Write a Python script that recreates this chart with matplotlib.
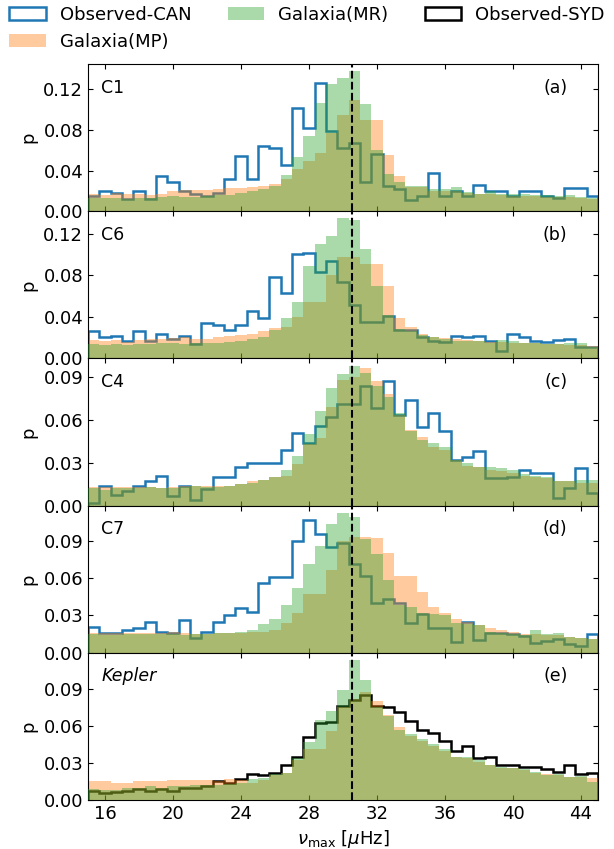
import numpy as np
import matplotlib
matplotlib.use("Agg")
import matplotlib.pyplot as plt

# bins: 45 bins of width 2/3 between 15 and 45 muHz
edges = np.linspace(15, 45, 46)
centers = 0.5 * (edges[:-1] + edges[1:])
numax_ref = 30.5

# C1
can_c1 = [0.015, 0.020, 0.018, 0.012, 0.020, 0.012, 0.035, 0.029, 0.020, 0.017,
          0.015, 0.018, 0.032, 0.054, 0.032, 0.064, 0.062, 0.046, 0.102, 0.082,
          0.126, 0.079, 0.062, 0.067, 0.029, 0.056, 0.025, 0.022, 0.011, 0.015,
          0.038, 0.015, 0.020, 0.015, 0.026, 0.020, 0.020, 0.015, 0.020, 0.020,
          0.015, 0.013, 0.023, 0.023, 0.015]
mp_c1 = [0.017, 0.016, 0.018, 0.017, 0.017, 0.016, 0.017, 0.020, 0.021, 0.021,
         0.021, 0.022, 0.023, 0.023, 0.024, 0.025, 0.027, 0.032, 0.042, 0.049,
         0.057, 0.077, 0.095, 0.110, 0.090, 0.090, 0.055, 0.035, 0.024, 0.024,
         0.020, 0.020, 0.020, 0.018, 0.017, 0.017, 0.016, 0.015, 0.015, 0.015,
         0.014, 0.014, 0.014, 0.013, 0.012]
mr_c1 = [0.013, 0.013, 0.013, 0.012, 0.013, 0.013, 0.014, 0.015, 0.014, 0.014,
         0.015, 0.016, 0.016, 0.018, 0.020, 0.022, 0.025, 0.036, 0.053, 0.074,
         0.107, 0.125, 0.131, 0.138, 0.106, 0.060, 0.037, 0.029, 0.025, 0.025,
         0.022, 0.022, 0.024, 0.019, 0.017, 0.0195, 0.017, 0.017, 0.017, 0.016,
         0.016, 0.0145, 0.016, 0.014, 0.013]

# C6
can_c6 = [0.026, 0.021, 0.022, 0.017, 0.026, 0.017, 0.024, 0.019, 0.022, 0.014,
          0.034, 0.032, 0.027, 0.032, 0.046, 0.039, 0.079, 0.063, 0.101, 0.102,
          0.083, 0.094, 0.074, 0.052, 0.035, 0.035, 0.041, 0.027, 0.027, 0.021,
          0.017, 0.0155, 0.022, 0.021, 0.022, 0.017, 0.007, 0.024, 0.021, 0.017,
          0.0155, 0.018, 0.019, 0.011, 0.011]
mp_c6 = [0.018, 0.017, 0.018, 0.016, 0.018, 0.019, 0.019, 0.020, 0.021, 0.019,
         0.019, 0.021, 0.022, 0.023, 0.024, 0.026, 0.029, 0.030, 0.040, 0.054,
         0.054, 0.080, 0.098, 0.098, 0.091, 0.091, 0.070, 0.039, 0.030, 0.024,
         0.021, 0.020, 0.019, 0.018, 0.017, 0.016, 0.016, 0.015, 0.015, 0.015,
         0.014, 0.014, 0.013, 0.013, 0.012]
mr_c6 = [0.014, 0.013, 0.014, 0.013, 0.014, 0.014, 0.015, 0.015, 0.014, 0.015,
         0.015, 0.015, 0.016, 0.017, 0.019, 0.021, 0.027, 0.039, 0.054, 0.089,
         0.110, 0.118, 0.135, 0.134, 0.106, 0.070, 0.042, 0.028, 0.026, 0.023,
         0.021, 0.019, 0.017, 0.017, 0.017, 0.0145, 0.018, 0.017, 0.0145, 0.0145,
         0.0135, 0.0135, 0.0145, 0.015, 0.011]

# C4
can_c4 = [0.002, 0.014, 0.0075, 0.010, 0.014, 0.017, 0.021, 0.0066, 0.014, 0.004,
          0.0117, 0.0197, 0.0197, 0.027, 0.030, 0.030, 0.030, 0.039, 0.051, 0.044,
          0.056, 0.062, 0.071, 0.071, 0.084, 0.068, 0.087, 0.0635, 0.074, 0.055,
          0.065, 0.052, 0.032, 0.034, 0.038, 0.019, 0.019, 0.020, 0.025, 0.023,
          0.023, 0.0056, 0.012, 0.026, 0.009]
mp_c4 = [0.013, 0.013, 0.013, 0.013, 0.013, 0.013, 0.012, 0.013, 0.014, 0.014,
         0.014, 0.014, 0.014, 0.015, 0.017, 0.018, 0.020, 0.021, 0.029, 0.043,
         0.047, 0.069, 0.088, 0.090, 0.096, 0.087, 0.078, 0.0635, 0.053, 0.048,
         0.041, 0.039, 0.032, 0.028, 0.027, 0.025, 0.024, 0.023, 0.021, 0.020,
         0.019, 0.017, 0.017, 0.016, 0.016]
mr_c4 = [0.012, 0.011, 0.012, 0.012, 0.012, 0.013, 0.012, 0.012, 0.013, 0.014,
         0.013, 0.013, 0.014, 0.015, 0.016, 0.018, 0.020, 0.025, 0.035, 0.050,
         0.0665, 0.0825, 0.092, 0.098, 0.093, 0.084, 0.076, 0.065, 0.0525, 0.046,
         0.0435, 0.041, 0.032, 0.030, 0.027, 0.027, 0.026, 0.025, 0.022, 0.021,
         0.020, 0.0175, 0.0175, 0.018, 0.018]

# C7
can_c7 = [0.0205, 0.016, 0.016, 0.018, 0.0195, 0.025, 0.017, 0.016, 0.026, 0.012,
          0.017, 0.025, 0.030, 0.036, 0.033, 0.056, 0.0605, 0.0605, 0.090, 0.1065,
          0.095, 0.085, 0.088, 0.0715, 0.0615, 0.040, 0.043, 0.040, 0.024, 0.031,
          0.0195, 0.0195, 0.009, 0.025, 0.010, 0.0155, 0.0155, 0.015, 0.0135, 0.008,
          0.0097, 0.011, 0.007, 0.0054, 0.015]
mp_c7 = [0.016, 0.016, 0.016, 0.016, 0.016, 0.016, 0.016, 0.017, 0.016, 0.015,
         0.015, 0.016, 0.016, 0.016, 0.017, 0.017, 0.018, 0.024, 0.032, 0.047,
         0.047, 0.066, 0.090, 0.093, 0.093, 0.092, 0.080, 0.0615, 0.0615, 0.049,
         0.0365, 0.032, 0.027, 0.025, 0.022, 0.020, 0.018, 0.017, 0.015, 0.015,
         0.014, 0.014, 0.013, 0.012, 0.011]
mr_c7 = [0.015, 0.014, 0.014, 0.015, 0.015, 0.015, 0.015, 0.015, 0.014, 0.015,
         0.015, 0.016, 0.016, 0.017, 0.018, 0.023, 0.0275, 0.038, 0.052, 0.0715,
         0.086, 0.103, 0.112, 0.1085, 0.091, 0.079, 0.058, 0.038, 0.0365, 0.032,
         0.031, 0.030, 0.024, 0.023, 0.022, 0.017, 0.016, 0.015, 0.014, 0.018,
         0.015, 0.016, 0.013, 0.012, 0.011]

# Kepler
syd_kep = [0.007, 0.0054, 0.0065, 0.0076, 0.009, 0.0076, 0.009, 0.0076, 0.0097, 0.010,
           0.011, 0.0157, 0.014, 0.017, 0.021, 0.0205, 0.0216, 0.028, 0.035, 0.051,
           0.062, 0.063, 0.0757, 0.081, 0.0846, 0.0757, 0.075, 0.071, 0.0635, 0.057,
           0.054, 0.0476, 0.040, 0.0435, 0.034, 0.0346, 0.0286, 0.028, 0.0265, 0.0265,
           0.025, 0.023, 0.028, 0.021, 0.0216]
mp_kep = [0.015, 0.015, 0.014, 0.014, 0.015, 0.015, 0.015, 0.016, 0.016, 0.016,
          0.016, 0.015, 0.017, 0.016, 0.0135, 0.016, 0.020, 0.022, 0.032, 0.041,
          0.041, 0.056, 0.075, 0.082, 0.087, 0.080, 0.069, 0.059, 0.052, 0.048,
          0.044, 0.040, 0.035, 0.034, 0.031, 0.028, 0.026, 0.026, 0.024, 0.022,
          0.021, 0.020, 0.019, 0.019, 0.018]
mr_kep = [0.009, 0.008, 0.008, 0.010, 0.010, 0.011, 0.010, 0.011, 0.011, 0.012,
          0.012, 0.012, 0.013, 0.014, 0.017, 0.018, 0.021, 0.0216, 0.034, 0.047,
          0.065, 0.072, 0.089, 0.1135, 0.097, 0.075, 0.0676, 0.057, 0.0535, 0.049,
          0.045, 0.041, 0.035, 0.035, 0.032, 0.028, 0.027, 0.026, 0.025, 0.023,
          0.0205, 0.021, 0.019, 0.0197, 0.0143]

panel_names = ["C1", "C6", "C4", "C7", "Kepler"]
panel_tags = ["(a)", "(b)", "(c)", "(d)", "(e)"]
observed = [can_c1, can_c6, can_c4, can_c7, syd_kep]
galaxia_mp = [mp_c1, mp_c6, mp_c4, mp_c7, mp_kep]
galaxia_mr = [mr_c1, mr_c6, mr_c4, mr_c7, mr_kep]
y_tops = [0.145, 0.142, 0.103, 0.118, 0.119]
y_ticks = [[0, 0.04, 0.08, 0.12], [0, 0.04, 0.08, 0.12],
           [0, 0.03, 0.06, 0.09], [0, 0.03, 0.06, 0.09], [0, 0.03, 0.06, 0.09]]

fig = plt.figure(figsize=(6.14, 8.49), dpi=100)
axes = fig.subplots(5, 1, sharex=True)
fig.subplots_adjust(left=0.1433, right=0.974, top=0.9246, bottom=0.0577, hspace=0)

handles = {}
for i, ax in enumerate(axes):
    is_kepler = i == 4
    obs_color = "k" if is_kepler else "tab:blue"
    obs_label = "Observed-SYD" if is_kepler else "Observed-CAN"
    _, _, p_obs = ax.hist(centers, bins=edges, weights=observed[i], histtype="step",
                          color=obs_color, lw=1.8, zorder=1, label=obs_label)
    _, _, p_mp = ax.hist(centers, bins=edges, weights=galaxia_mp[i], histtype="stepfilled",
                         color="tab:orange", alpha=0.4, zorder=2, label="Galaxia(MP)")
    _, _, p_mr = ax.hist(centers, bins=edges, weights=galaxia_mr[i], histtype="stepfilled",
                         color="tab:green", alpha=0.4, zorder=3, label="Galaxia(MR)")
    handles[obs_label] = p_obs[0]
    handles["Galaxia(MP)"] = p_mp[0]
    handles["Galaxia(MR)"] = p_mr[0]

    ax.axvline(numax_ref, color="k", ls="--", lw=1.5, zorder=4)
    ax.set_xlim(15, 45)
    ax.set_ylim(0, y_tops[i])
    ax.set_yticks(y_ticks[i])
    ax.set_yticklabels([f"{t:.2f}" for t in y_ticks[i]])
    ax.set_ylabel("p", fontsize=13)
    ax.tick_params(direction="in", top=True, right=True, labelsize=13)
    ax.text(0.026, 0.84, panel_names[i], transform=ax.transAxes, fontsize=12.5,
            va="center", ha="left", style="italic" if is_kepler else "normal")
    ax.text(0.94, 0.84, panel_tags[i], transform=ax.transAxes, fontsize=12.5,
            va="center", ha="right")

axes[-1].set_xticks(np.arange(16, 45, 4))
axes[-1].set_xlabel(r"$\nu_{\rm max}$ [$\mu$Hz]", fontsize=13)

order = ["Observed-CAN", "Galaxia(MP)", "Galaxia(MR)", "Observed-SYD"]
fig.legend([handles[k] for k in order], order, loc="upper center", ncol=3,
           frameon=False, fontsize=13, bbox_to_anchor=(0.5, 1.012))

plt.savefig("out.png", dpi=100)
plt.close()
